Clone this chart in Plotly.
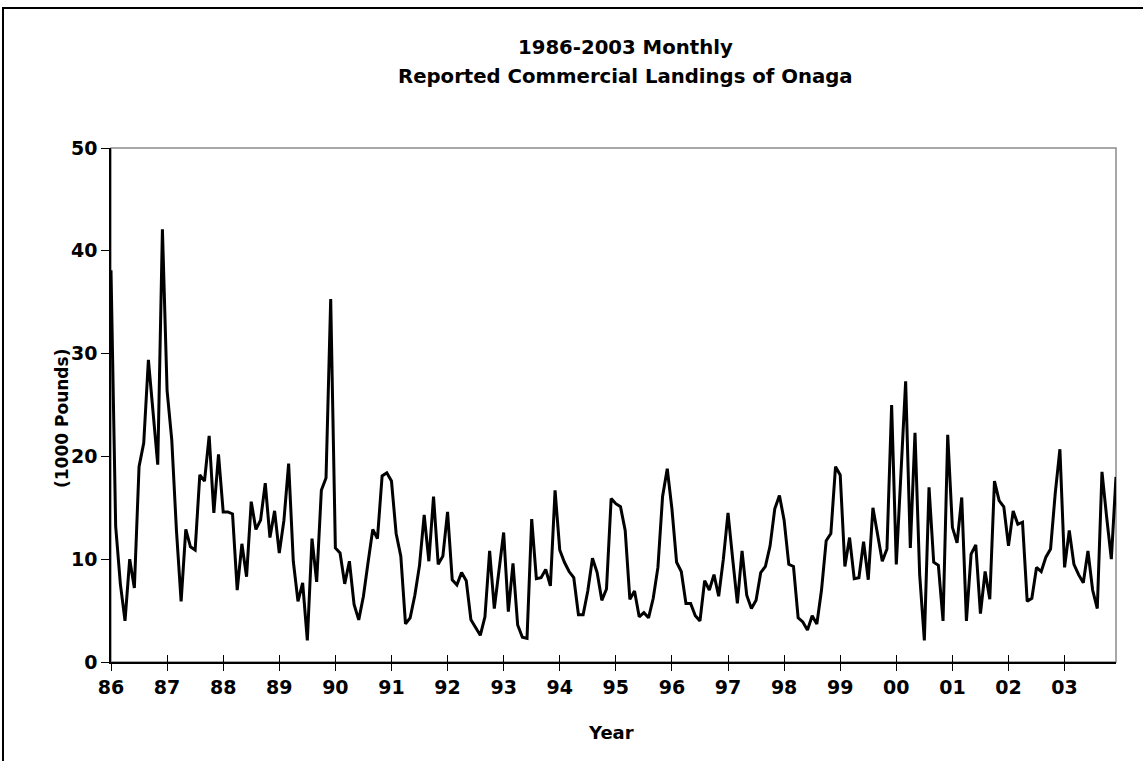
import plotly.graph_objects as go

# Monthly landings, in thousands of pounds, Jan 1986 .. Dec 2003
landings_1986 = [38.1, 13.2, 7.6, 4.0, 10.0, 7.2, 19.0, 21.3, 29.4, 24.3, 19.2, 42.1]
landings_1987 = [26.4, 21.6, 12.8, 5.9, 12.9, 11.2, 10.9, 18.2, 17.6, 22.0, 14.5, 20.2]
landings_1988 = [14.6, 14.6, 14.4, 7.0, 11.5, 8.3, 15.6, 12.9, 13.8, 17.4, 12.1, 14.7]
landings_1989 = [10.6, 13.8, 19.3, 9.8, 5.9, 7.7, 2.1, 12.0, 7.8, 16.7, 17.9, 35.3]
landings_1990 = [11.1, 10.6, 7.6, 9.8, 5.6, 4.1, 6.4, 9.7, 12.9, 12.0, 18.1, 18.4]
landings_1991 = [17.6, 12.5, 10.3, 3.7, 4.3, 6.5, 9.4, 14.3, 9.8, 16.1, 9.5, 10.3]
landings_1992 = [14.6, 8.0, 7.5, 8.7, 7.9, 4.1, 3.4, 2.6, 4.4, 10.8, 5.2, 8.7]
landings_1993 = [12.6, 4.9, 9.6, 3.6, 2.4, 2.3, 13.9, 8.1, 8.2, 9.0, 7.4, 16.7]
landings_1994 = [10.9, 9.7, 8.8, 8.2, 4.6, 4.6, 6.9, 10.1, 8.7, 6.0, 7.1, 15.9]
landings_1995 = [15.4, 15.1, 12.8, 6.1, 6.9, 4.4, 4.8, 4.3, 6.2, 9.2, 16.1, 18.8]
landings_1996 = [14.9, 9.7, 8.8, 5.7, 5.7, 4.5, 4.0, 7.9, 7.0, 8.5, 6.4, 10.0]
landings_1997 = [14.5, 10.0, 5.7, 10.8, 6.5, 5.2, 6.0, 8.7, 9.3, 11.3, 14.9, 16.2]
landings_1998 = [13.8, 9.5, 9.3, 4.3, 3.9, 3.1, 4.5, 3.7, 7.0, 11.8, 12.5, 19.0]
landings_1999 = [18.2, 9.3, 12.1, 8.1, 8.2, 11.7, 8.0, 15.0, 12.5, 9.8, 11.0, 25.0]
landings_2000 = [9.5, 18.3, 27.3, 11.1, 22.3, 8.5, 2.1, 17.0, 9.7, 9.4, 4.0, 22.1]
landings_2001 = [13.1, 11.6, 16.0, 4.0, 10.5, 11.4, 4.7, 8.8, 6.1, 17.6, 15.7, 15.1]
landings_2002 = [11.3, 14.7, 13.4, 13.6, 5.9, 6.2, 9.2, 8.8, 10.2, 11.0, 16.4, 20.7]
landings_2003 = [9.2, 12.8, 9.5, 8.5, 7.7, 10.8, 7.0, 5.2, 18.5, 14.1, 10.0, 18.0]

year_labels = ["86", "87", "88", "89", "90", "91", "92", "93", "94",
               "95", "96", "97", "98", "99", "00", "01", "02", "03"]

yearly = [landings_1986, landings_1987, landings_1988, landings_1989,
          landings_1990, landings_1991, landings_1992, landings_1993,
          landings_1994, landings_1995, landings_1996, landings_1997,
          landings_1998, landings_1999, landings_2000, landings_2001,
          landings_2002, landings_2003]

values = [v for year in yearly for v in year]
month_index = list(range(len(values)))
year_ticks = [12 * k for k in range(len(year_labels))]

W, H = 1143, 761
L, R, T, B = 111, 1116, 148, 662   # plot area edges in pixels


def px(x):
    return (x - L) / (R - L)


def py(y):
    return (B - y) / (B - T)


FONT = "DejaVu Sans"

fig = go.Figure()
fig.add_trace(go.Scatter(
    x=month_index, y=values, mode="lines",
    line=dict(color="black", width=3),
    showlegend=False, hoverinfo="skip",
))
# invisible companion trace so the overlay axis draws its inner tick marks
fig.add_trace(go.Scatter(
    x=[0], y=[0], xaxis="x2", mode="markers",
    marker=dict(opacity=0), showlegend=False, hoverinfo="skip",
))

fig.update_layout(
    width=W, height=H,
    margin=dict(l=L, r=W - R, t=T, b=H - B, pad=0),
    paper_bgcolor="white", plot_bgcolor="white",
    font=dict(family=FONT, color="black"),
    xaxis=dict(
        range=[0, len(values) - 1], tickmode="array",
        tickvals=year_ticks, ticktext=year_labels,
        ticks="outside", ticklen=7, tickwidth=1, tickcolor="black",
        showline=True, linecolor="black", linewidth=1.5,
        showgrid=False, zeroline=False,
        tickfont=dict(family=FONT, size=19, color="black", weight="bold"),
    ),
    xaxis2=dict(
        overlaying="x", range=[0, len(values) - 1], tickmode="array",
        tickvals=year_ticks, ticktext=["" for _ in year_labels],
        ticks="inside", ticklen=7, tickwidth=1, tickcolor="black",
        showline=False, showgrid=False, zeroline=False, side="bottom",
        anchor="y",
    ),
    yaxis=dict(
        range=[0, 50], dtick=10, tick0=0,
        ticks="outside", ticklen=8, tickwidth=1, tickcolor="black",
        showline=True, linecolor="black", linewidth=1.5,
        showgrid=False, zeroline=False,
        tickfont=dict(family=FONT, size=19, color="black", weight="bold"),
    ),
    shapes=[
        # plot area frame
        dict(type="rect", xref="paper", yref="paper", x0=0, x1=1, y0=0, y1=1,
             line=dict(color="#8c8c8c", width=1.5), layer="below"),
        # chart frame
        dict(type="rect", xref="paper", yref="paper",
             x0=px(3), x1=px(1146), y0=py(764), y1=py(8),
             line=dict(color="black", width=2)),
    ],
    annotations=[
        dict(text="<b>1986-2003 Monthly</b>", xref="paper", yref="paper",
             x=px(625), y=py(47), xanchor="center", yanchor="middle",
             showarrow=False, font=dict(family=FONT, size=19.7, color="black")),
        dict(text="<b>Reported Commercial Landings of Onaga</b>", xref="paper", yref="paper",
             x=px(625), y=py(76), xanchor="center", yanchor="middle",
             showarrow=False, font=dict(family=FONT, size=19.7, color="black")),
        dict(text="<b>Year</b>", xref="paper", yref="paper",
             x=px(611), y=py(732), xanchor="center", yanchor="middle",
             showarrow=False, font=dict(family=FONT, size=18, color="black")),
        dict(text="<b>(1000 Pounds)</b>", xref="paper", yref="paper",
             x=px(62), y=py(419), xanchor="center", yanchor="middle", textangle=-90,
             showarrow=False, font=dict(family=FONT, size=17, color="black")),
    ],
)

fig.write_html("out.html")
